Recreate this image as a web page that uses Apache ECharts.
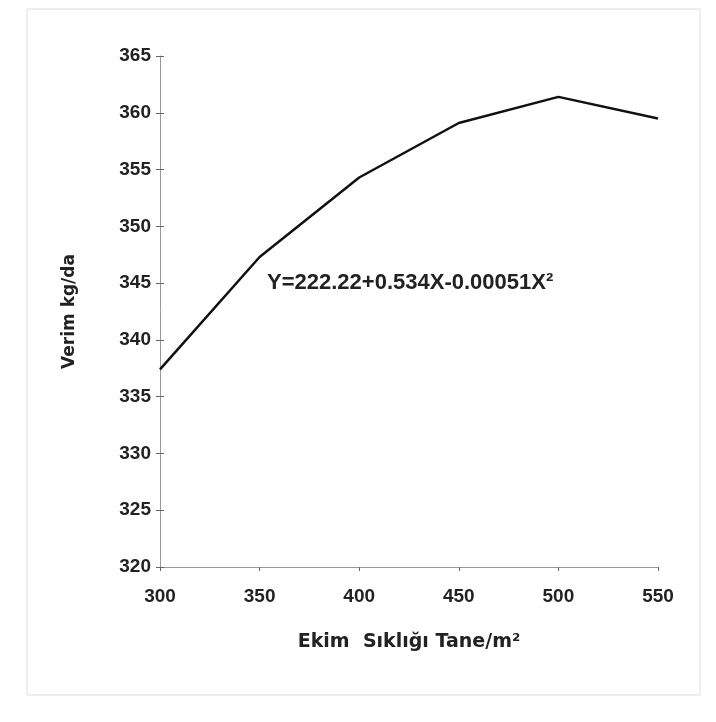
<!DOCTYPE html>
<html>
<head>
<meta charset="utf-8">
<script src="https://cdn.jsdelivr.net/npm/echarts@6/dist/echarts.min.js"></script>
<style>html,body{margin:0;padding:0;background:#fff;}#c{width:716px;height:722px;}</style>
</head>
<body>
<div id="c"></div>
<script>
const xValues = [300, 350, 400, 450, 500, 550];
const yieldValues = [337.4, 347.3, 354.3, 359.1, 361.4, 359.5];
const yTicks = [320, 325, 330, 335, 340, 345, 350, 355, 360, 365];
const xTicks = [300, 350, 400, 450, 500, 550];
const equationText = 'Y=222.22+0.534X-0.00051X²';
const xTitle = 'Ekim  Sıklığı Tane/m²';
const yTitle = 'Verim kg/da';

const chart = echarts.init(document.getElementById('c'));
const font = 'Liberation Sans, Arial, sans-serif';
const wide = 'DejaVu Sans, sans-serif';
chart.setOption({
  backgroundColor: '#fff',
  animation: false,
  grid: { left: 160, right: 58, top: 56, bottom: 155 },
  xAxis: {
    type: 'value', min: 300, max: 550, interval: 50,
    name: xTitle, nameLocation: 'middle', nameGap: 66,
    nameTextStyle: { fontFamily: wide, fontWeight: 'bold', fontSize: 19, color: '#222' },
    axisLine: { lineStyle: { color: '#999', width: 1 } },
    axisTick: { show: true, inside: false, length: 4, lineStyle: { color: '#666' } },
    axisLabel: { margin: 20, fontFamily: font, fontWeight: 'bold', fontSize: 19, color: '#222' },
    splitLine: { show: false }
  },
  yAxis: [{
    type: 'value', min: 320, max: 365, interval: 5,
    name: yTitle, nameLocation: 'middle', nameGap: 82, nameRotate: 90,
    nameTextStyle: { fontFamily: wide, fontWeight: 'bold', fontSize: 17, color: '#222' },
    axisLine: { show: true, lineStyle: { color: '#999', width: 1 } },
    axisTick: { show: true, length: 4, lineStyle: { color: '#666' } },
    axisLabel: { margin: 9, fontFamily: font, fontWeight: 'bold', fontSize: 19, color: '#222' },
    splitLine: { show: false }
  }, {
    type: 'value', min: 320, max: 365, interval: 5, position: 'left',
    axisLine: { show: false },
    axisTick: { show: true, inside: true, length: 4, lineStyle: { color: '#666' } },
    axisLabel: { show: false },
    splitLine: { show: false }
  }],
  series: [{
    type: 'line',
    data: xValues.map((x, i) => [x, yieldValues[i]]),
    showSymbol: false,
    lineStyle: { color: '#111', width: 2.5 }
  }],
  graphic: [
    { type: 'text', left: 267, top: 272, style: { text: equationText, fontFamily: font, fontWeight: 'bold', fontSize: 22, fill: '#222' } },
    { type: 'rect', shape: { x: 27, y: 9, width: 673, height: 686 }, style: { fill: 'none', stroke: '#ddd', lineWidth: 1 }, silent: true }
  ]
});
</script>
</body>
</html>
